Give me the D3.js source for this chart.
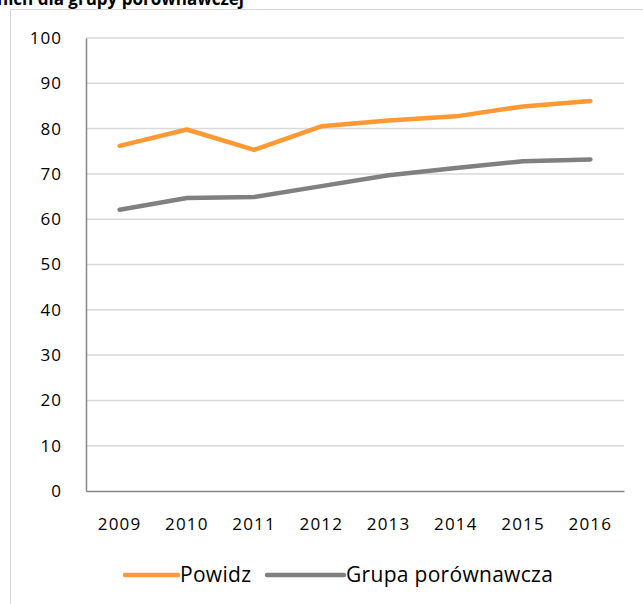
<!DOCTYPE html>
<html>
<head>
<meta charset="utf-8">
<script src="https://cdn.jsdelivr.net/npm/d3@7"></script>
<style>
  body { margin: 0; background: #fff; }
  svg text { font-family: "Open Sans", sans-serif; fill: #000; }
</style>
</head>
<body>
<div id="chart"></div>
<script>
// values
const years = ["2009", "2010", "2011", "2012", "2013", "2014", "2015", "2016"];
const powidz = [76.2, 79.8, 75.3, 80.5, 81.8, 82.7, 84.9, 86.1];
const grupa = [62.1, 64.7, 64.9, 67.3, 69.7, 71.3, 72.8, 73.2];
const yTicks = [0, 10, 20, 30, 40, 50, 60, 70, 80, 90, 100];
const seriesNames = ["Powidz", "Grupa porównawcza"];
const seriesColors = ["#ff9933", "#808080"];

const width = 643, height = 604;
const margin = { left: 86, right: 19, top: 38, bottom: 113 };

const svg = d3.select("#chart").append("svg")
    .attr("width", width)
    .attr("height", height);

// chart frame
svg.append("rect")
    .attr("x", 10.5).attr("y", 9.5)
    .attr("width", 700).attr("height", 700)
    .attr("fill", "none")
    .attr("stroke", "#d9d9d9");

// cut-off title
svg.append("text")
    .attr("x", -3).attr("y", 5)
    .style("font-size", "17px")
    .style("font-weight", "bold")
    .text("nich dla grupy porównawczej");

const x = d3.scaleBand()
    .domain(years)
    .range([margin.left, width - margin.right]);

const y = d3.scaleLinear()
    .domain([0, 100])
    .range([height - margin.bottom, margin.top]);

// gridlines
svg.append("g")
    .selectAll("line")
    .data(yTicks.filter(d => d > 0))
    .join("line")
    .attr("x1", margin.left).attr("x2", width - margin.right)
    .attr("y1", d => y(d)).attr("y2", d => y(d))
    .attr("stroke", "#d9d9d9")
    .attr("stroke-width", 1.5);

// y axis
const yAxis = svg.append("g")
    .attr("transform", `translate(${margin.left},0)`)
    .call(d3.axisLeft(y).tickValues(yTicks).tickSize(0).tickPadding(24));
yAxis.select(".domain").attr("stroke", "#868686").attr("stroke-width", 1.5);
yAxis.selectAll("text")
    .style("font-size", "17px").style("font-family", null)
    .style("letter-spacing", "1px");

// x axis
const xAxis = svg.append("g")
    .attr("transform", `translate(0,${y(0)})`)
    .call(d3.axisBottom(x).tickSize(0).tickPadding(27));
xAxis.select(".domain").attr("stroke", "#868686").attr("stroke-width", 1.5);
xAxis.selectAll("text")
    .style("font-size", "17px").style("font-family", null)
    .style("letter-spacing", "1.2px");

// lines
const line = d3.line()
    .x((d, i) => x(years[i]) + x.bandwidth() / 2)
    .y(d => y(d));

[powidz, grupa].forEach((data, i) => {
    svg.append("path")
        .datum(data)
        .attr("d", line)
        .attr("fill", "none")
        .attr("stroke", seriesColors[i])
        .attr("stroke-width", 4.5)
        .attr("stroke-linecap", "round")
        .attr("stroke-linejoin", "round");
});

// legend
const legendX = [125, 267];
const legend = svg.append("g");
seriesNames.forEach((name, i) => {
    legend.append("line")
        .attr("x1", legendX[i]).attr("x2", legendX[i] + 53 + i * 24)
        .attr("y1", 575).attr("y2", 575)
        .attr("stroke", seriesColors[i])
        .attr("stroke-width", 4.5)
        .attr("stroke-linecap", "round");
    legend.append("text")
        .attr("x", legendX[i] + 55 + i * 24)
        .attr("y", 582)
        .style("font-size", "21px")
        .style("letter-spacing", "0.3px")
        .text(name);
});
</script>
</body>
</html>
